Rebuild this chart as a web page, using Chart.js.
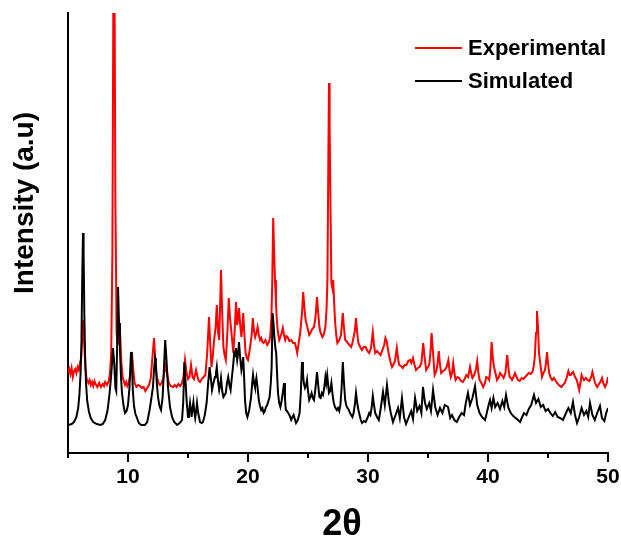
<!DOCTYPE html>
<html>
<head>
<meta charset="utf-8">
<script src="https://cdn.jsdelivr.net/npm/chart.js@4.4.1/dist/chart.umd.min.js"></script>
<style>
  html, body { margin: 0; padding: 0; background: #fff; }
  #wrap { width: 621px; height: 541px; }
</style>
</head>
<body>
<div id="wrap"><canvas id="xrd" width="621" height="541"></canvas></div>
<script>
// series names and axis labels
const seriesNames = ["Experimental", "Simulated"];
const seriesColors = ["#ff0000", "#000000"];
const xTitle = "2θ";
const yTitle = "Intensity (a.u)";
const xTickLabels = [10, 20, 30, 40, 50];

// experimental pattern [2theta, intensity a.u.]
const expPattern = [
  [5.0,80],[5.1,84],[5.2,79],[5.3,85],[5.4,76],[5.5,82],[5.6,84],[5.7,80],[5.8,86],[5.9,83],
  [6.0,90],[6.1,95],[6.2,118],[6.28,133],[6.35,110],[6.45,85],[6.55,74],[6.7,70],[6.8,73],[6.9,68],
  [7.0,71],[7.1,67],[7.2,72],[7.3,69],[7.45,66],[7.6,70],[7.75,66],[7.9,69],[8.0,67],[8.1,71],
  [8.25,68],[8.4,72],[8.5,80],[8.6,100],[8.7,200],[8.78,460],[8.88,460],[8.95,250],[9.05,120],[9.15,108],
  [9.25,130],[9.35,118],[9.45,90],[9.55,76],[9.65,72],[9.75,68],[9.85,71],[9.95,67],[10.05,70],[10.2,78],
  [10.33,100],[10.45,82],[10.55,70],[10.7,66],[10.85,68],[11.0,67],[11.15,65],[11.3,66],[11.45,62],[11.6,65],
  [11.75,68],[11.9,75],[12.05,98],[12.17,115],[12.3,88],[12.4,76],[12.55,70],[12.67,68],[12.8,70],[12.95,75],
  [13.1,88],[13.25,80],[13.4,70],[13.55,67],[13.75,66],[13.9,68],[14.05,66],[14.2,69],[14.35,67],[14.5,70],
  [14.62,76],[14.75,93],[14.88,80],[15.0,74],[15.12,76],[15.25,88],[15.38,76],[15.5,74],[15.67,83],[15.8,76],
  [15.9,72],[16.0,71],[16.15,74],[16.3,76],[16.45,78],[16.6,100],[16.75,136],[16.85,110],[16.95,86],[17.05,95],
  [17.2,116],[17.3,125],[17.4,148],[17.5,122],[17.6,113],[17.68,150],[17.75,183],[17.85,140],[17.95,106],[18.05,98],
  [18.15,93],[18.28,120],[18.4,155],[18.5,135],[18.6,123],[18.7,110],[18.78,100],[18.9,125],[19.0,151],[19.1,128],
  [19.18,135],[19.25,145],[19.35,128],[19.45,116],[19.52,125],[19.6,140],[19.7,118],[19.8,100],[19.9,95],[20.0,93],
  [20.1,100],[20.2,108],[20.32,120],[20.4,135],[20.5,122],[20.6,116],[20.7,120],[20.8,126],[20.9,118],[21.0,113],
  [21.1,115],[21.2,111],[21.3,110],[21.45,113],[21.6,108],[21.75,111],[21.85,116],[21.95,135],[22.02,170],[22.1,235],
  [22.18,200],[22.25,173],[22.33,150],[22.4,133],[22.5,120],[22.6,113],[22.7,116],[22.8,120],[22.9,125],[23.0,118],
  [23.1,113],[23.2,117],[23.3,116],[23.45,112],[23.6,113],[23.75,110],[23.9,110],[24.0,106],[24.1,100],[24.2,108],
  [24.35,120],[24.5,140],[24.6,161],[24.7,145],[24.8,133],[24.9,128],[25.0,123],[25.1,118],[25.2,120],[25.35,124],
  [25.5,126],[25.62,135],[25.75,156],[25.85,140],[25.95,126],[26.05,120],[26.2,116],[26.3,118],[26.45,126],[26.55,145],
  [26.62,173],[26.7,300],[26.75,370],[26.8,330],[26.87,250],[26.95,170],[27.03,165],[27.1,173],[27.18,150],[27.25,133],
  [27.35,118],[27.45,110],[27.6,113],[27.75,118],[27.9,140],[28.0,125],[28.1,113],[28.2,112],[28.3,110],[28.45,108],
  [28.6,106],[28.7,110],[28.8,116],[28.9,122],[29.0,135],[29.1,120],[29.2,110],[29.35,106],[29.5,103],[29.65,106],
  [29.8,106],[29.95,102],[30.1,100],[30.25,105],[30.4,121],[30.5,108],[30.6,100],[30.75,102],[30.9,100],[31.05,98],
  [31.2,103],[31.35,108],[31.45,115],[31.55,112],[31.7,101],[31.8,95],[31.9,90],[32.0,86],[32.1,88],[32.25,92],
  [32.4,105],[32.5,95],[32.6,88],[32.75,87],[32.9,85],[33.05,88],[33.2,88],[33.35,92],[33.5,93],[33.62,90],
  [33.75,95],[33.88,88],[34.0,83],[34.15,85],[34.3,86],[34.45,90],[34.6,110],[34.72,95],[34.85,83],[35.0,86],
  [35.1,88],[35.2,100],[35.3,120],[35.42,100],[35.55,78],[35.7,82],[35.8,90],[35.9,102],[36.0,88],[36.1,80],
  [36.25,82],[36.4,83],[36.55,86],[36.7,93],[36.8,82],[36.9,76],[37.0,80],[37.1,90],[37.2,80],[37.3,73],
  [37.45,76],[37.6,75],[37.75,72],[37.9,71],[38.05,74],[38.2,78],[38.35,76],[38.5,86],[38.6,80],[38.7,75],
  [38.85,78],[39.0,84],[39.1,92],[39.2,80],[39.3,73],[39.45,70],[39.6,66],[39.75,70],[39.85,76],[40.0,75],
  [40.1,73],[40.2,85],[40.3,111],[40.4,95],[40.5,86],[40.62,80],[40.75,73],[40.9,76],[41.0,80],[41.15,78],
  [41.3,75],[41.45,80],[41.6,98],[41.7,85],[41.8,76],[41.9,75],[42.0,73],[42.12,76],[42.25,80],[42.38,76],
  [42.5,73],[42.65,72],[42.8,75],[42.95,74],[43.1,76],[43.25,78],[43.4,80],[43.55,79],[43.7,81],[43.8,86],
  [43.9,96],[44.0,120],[44.08,142],[44.17,125],[44.25,100],[44.35,90],[44.5,76],[44.62,80],[44.75,83],[44.85,92],
  [44.92,101],[45.0,90],[45.1,80],[45.2,76],[45.35,73],[45.5,75],[45.6,73],[45.75,70],[45.9,68],[46.0,67],
  [46.1,66],[46.25,68],[46.4,70],[46.55,75],[46.7,82],[46.8,78],[46.9,78],[47.0,80],[47.1,81],[47.25,76],
  [47.4,73],[47.5,68],[47.6,63],[47.7,70],[47.8,78],[47.9,75],[48.0,73],[48.15,75],[48.3,73],[48.45,72],
  [48.6,76],[48.7,81],[48.8,76],[48.9,71],[49.0,68],[49.1,66],[49.2,68],[49.3,70],[49.4,72],[49.5,75],
  [49.6,70],[49.75,66],[49.9,70],[50.0,76]
];

// simulated pattern [2theta, intensity a.u.]
const simPattern = [
  [5.0,28],[5.3,29],[5.5,31],[5.7,36],[5.85,45],[5.95,58],[6.05,80],[6.12,110],[6.18,170],[6.25,220],
  [6.3,200],[6.36,140],[6.42,100],[6.5,70],[6.6,52],[6.75,41],[6.9,35],[7.1,31],[7.4,29],[7.7,28],
  [7.9,29],[8.1,33],[8.3,43],[8.45,58],[8.58,75],[8.67,90],[8.75,105],[8.85,90],[8.95,65],[9.02,62],
  [9.1,110],[9.17,166],[9.25,130],[9.33,103],[9.42,75],[9.5,60],[9.62,48],[9.75,40],[9.88,42],[10.0,48],
  [10.12,65],[10.25,101],[10.32,95],[10.4,63],[10.5,47],[10.62,39],[10.75,35],[10.9,30],[11.1,28],[11.4,28],
  [11.6,31],[11.8,43],[11.95,55],[12.08,66],[12.15,80],[12.25,95],[12.32,90],[12.4,70],[12.5,56],[12.62,47],
  [12.75,43],[12.88,55],[12.98,80],[13.1,113],[13.2,95],[13.33,66],[13.5,46],[13.67,36],[13.85,31],[14.1,28],
  [14.3,30],[14.5,33],[14.6,50],[14.7,91],[14.8,70],[14.9,50],[15.0,36],[15.08,40],[15.17,50],[15.25,42],
  [15.3,36],[15.38,45],[15.45,51],[15.52,42],[15.6,35],[15.68,42],[15.75,50],[15.85,40],[16.0,31],[16.15,30],
  [16.25,31],[16.4,38],[16.55,50],[16.68,70],[16.8,86],[16.9,75],[17.0,63],[17.12,70],[17.25,76],[17.33,80],
  [17.4,86],[17.5,72],[17.6,63],[17.68,68],[17.75,75],[17.85,62],[17.95,56],[18.05,58],[18.15,60],[18.25,70],
  [18.35,76],[18.45,68],[18.55,63],[18.65,75],[18.75,86],[18.85,100],[18.95,98],[19.0,105],[19.1,93],[19.18,100],
  [19.25,111],[19.35,95],[19.45,83],[19.52,88],[19.6,96],[19.68,75],[19.75,53],[19.85,40],[19.95,36],[20.1,43],
  [20.25,55],[20.35,70],[20.42,78],[20.5,70],[20.58,66],[20.7,75],[20.8,65],[20.9,53],[21.0,47],[21.1,43],
  [21.2,45],[21.3,40],[21.4,42],[21.5,46],[21.6,48],[21.7,52],[21.8,56],[21.9,70],[21.97,86],[22.05,140],
  [22.12,130],[22.2,116],[22.28,105],[22.35,100],[22.42,80],[22.5,60],[22.6,50],[22.7,46],[22.8,52],[22.92,62],
  [23.0,70],[23.08,55],[23.15,43],[23.25,42],[23.35,40],[23.45,38],[23.6,33],[23.7,36],[23.8,38],[23.9,34],
  [24.0,30],[24.15,33],[24.3,40],[24.4,60],[24.5,91],[24.58,80],[24.65,70],[24.75,65],[24.85,68],[24.92,73],
  [25.0,62],[25.1,53],[25.2,56],[25.3,60],[25.4,55],[25.5,53],[25.6,62],[25.68,72],[25.75,81],[25.85,68],
  [25.95,56],[26.05,55],[26.15,60],[26.25,58],[26.35,65],[26.45,76],[26.52,70],[26.6,78],[26.68,68],[26.75,60],
  [26.85,62],[26.95,70],[27.05,58],[27.15,50],[27.25,46],[27.4,43],[27.5,45],[27.6,42],[27.7,48],[27.8,65],
  [27.9,91],[28.0,70],[28.1,53],[28.2,47],[28.3,45],[28.4,43],[28.5,40],[28.6,38],[28.7,36],[28.8,40],
  [28.9,48],[29.0,60],[29.1,50],[29.2,43],[29.3,38],[29.4,33],[29.5,30],[29.65,32],[29.8,31],[29.95,35],
  [30.1,40],[30.2,38],[30.3,45],[30.4,57],[30.5,48],[30.6,40],[30.75,36],[30.9,33],[31.0,40],[31.1,48],
  [31.25,61],[31.4,48],[31.58,68],[31.75,50],[31.9,40],[32.08,31],[32.3,38],[32.5,45],[32.65,35],[32.83,55],
  [33.0,36],[33.17,29],[33.4,36],[33.6,42],[33.75,34],[33.92,55],[34.1,42],[34.3,47],[34.45,40],[34.58,66],
  [34.75,50],[34.9,44],[35.1,50],[35.25,42],[35.42,63],[35.6,46],[35.8,38],[36.0,45],[36.2,40],[36.4,48],
  [36.67,46],[36.85,35],[37.0,38],[37.2,33],[37.4,31],[37.6,36],[37.8,40],[38.0,38],[38.15,50],[38.33,60],
  [38.5,48],[38.7,55],[38.92,67],[39.1,48],[39.3,40],[39.5,36],[39.75,33],[39.9,40],[40.05,48],[40.17,53],
  [40.3,45],[40.45,55],[40.6,46],[40.8,50],[41.0,44],[41.2,52],[41.35,46],[41.5,58],[41.7,45],[41.9,40],
  [42.1,37],[42.3,35],[42.5,33],[42.67,31],[42.85,36],[43.0,40],[43.2,38],[43.4,44],[43.6,48],[43.83,58],
  [44.0,50],[44.2,54],[44.4,46],[44.6,48],[44.8,42],[45.0,44],[45.2,40],[45.4,37],[45.6,41],[45.8,36],
  [46.0,35],[46.25,33],[46.5,40],[46.7,45],[46.9,40],[47.08,51],[47.25,38],[47.42,30],[47.6,36],[47.8,45],
  [48.0,38],[48.2,42],[48.35,36],[48.5,50],[48.7,38],[48.9,33],[49.1,40],[49.33,47],[49.5,35],[49.7,32],
  [49.85,40],[50.0,45]
];

const FONT = "'Liberation Sans', Arial, sans-serif";

// tick marks, axis titles and legend drawn on top of the chart
const decorations = {
  id: "decorations",
  afterDraw(chart) {
    const ctx = chart.ctx;
    const xs = chart.scales.x;
    const area = chart.chartArea;
    ctx.save();
    ctx.strokeStyle = "#000";
    ctx.lineWidth = 2;
    xs.ticks.forEach(t => {
      const px = Math.round(xs.getPixelForValue(t.value));
      const len = t.value % 10 === 0 ? 9 : 5;
      ctx.beginPath();
      ctx.moveTo(px, area.bottom);
      ctx.lineTo(px, area.bottom + len);
      ctx.stroke();
    });

    ctx.fillStyle = "#000";
    ctx.font = "bold 36px " + FONT;
    ctx.textAlign = "center";
    ctx.textBaseline = "alphabetic";
    ctx.fillText(xTitle, (area.left + area.right) / 2 + 4, 535);

    ctx.save();
    ctx.translate(33, 203);
    ctx.rotate(-Math.PI / 2);
    ctx.font = "bold 28px " + FONT;
    ctx.fillText(yTitle, 0, 0);
    ctx.restore();

    ctx.font = "bold 22px " + FONT;
    ctx.textAlign = "left";
    seriesNames.forEach((name, i) => {
      const y = 48 + i * 33;
      ctx.strokeStyle = seriesColors[i];
      ctx.beginPath();
      ctx.moveTo(415, y);
      ctx.lineTo(462, y);
      ctx.stroke();
      ctx.fillText(name, 468, y + 7);
    });
    ctx.restore();
  }
};

new Chart(document.getElementById("xrd"), {
  type: "line",
  data: {
    datasets: [
      {
        label: seriesNames[0],
        data: expPattern.map(([x, y]) => ({ x, y })),
        borderColor: seriesColors[0],
        borderWidth: 2,
        pointRadius: 0,
        tension: 0,
        order: 1,
        clip: 0
      },
      {
        label: seriesNames[1],
        data: simPattern.map(([x, y]) => ({ x, y })),
        borderColor: seriesColors[1],
        borderWidth: 2,
        pointRadius: 0,
        tension: 0,
        order: 0,
        clip: 0
      }
    ]
  },
  options: {
    responsive: false,
    animation: false,
    layout: { padding: { left: 0, right: 13, top: 13, bottom: 0 } },
    plugins: { legend: { display: false }, tooltip: { enabled: false } },
    scales: {
      x: {
        type: "linear",
        min: 5,
        max: 50,
        grid: { display: false, drawTicks: false },
        border: { display: true, color: "#000", width: 2 },
        ticks: {
          stepSize: 5,
          autoSkip: false,
          maxRotation: 0,
          padding: 12,
          color: "#000",
          font: { family: FONT, weight: "bold", size: 21 },
          callback: v => xTickLabels.includes(v) ? String(v) : ""
        },
        afterFit: s => { s.height = 88; s.paddingLeft = 0; s.paddingRight = 0; }
      },
      y: {
        min: 0,
        max: 440,
        grid: { display: false, drawTicks: false },
        border: { display: true, color: "#000", width: 2 },
        ticks: { display: false },
        afterFit: s => { s.width = 68; }
      }
    }
  },
  plugins: [decorations]
});
</script>
</body>
</html>
